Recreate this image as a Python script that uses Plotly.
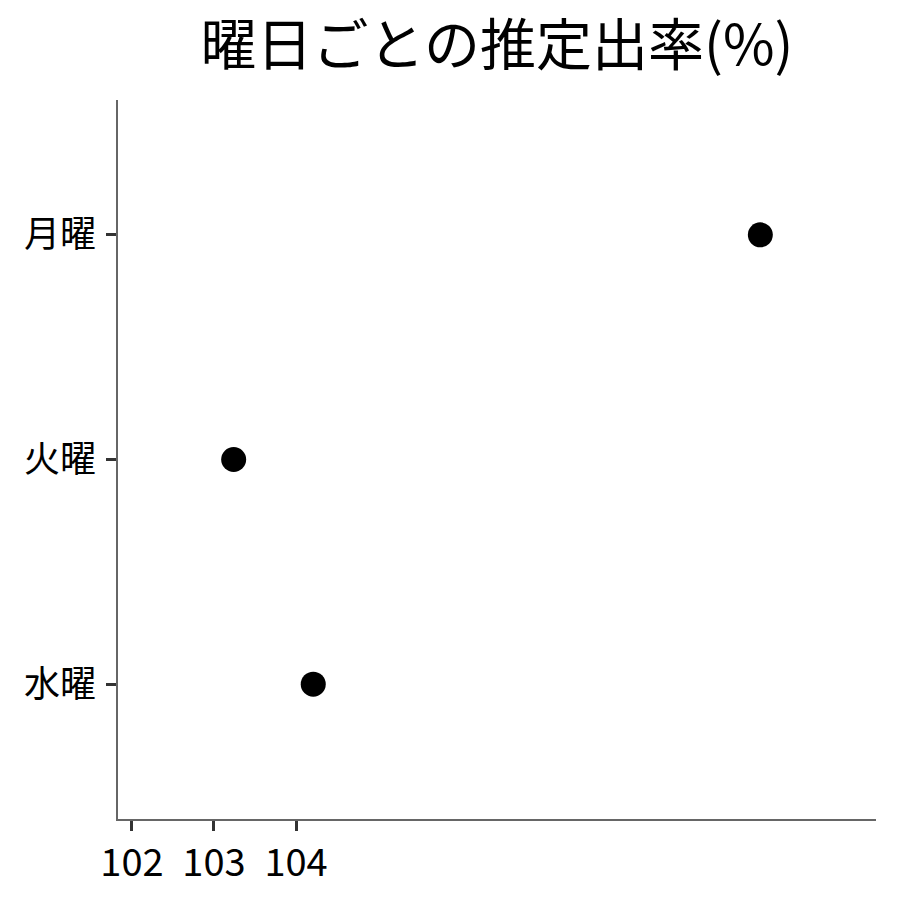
import plotly.graph_objects as go

days = ["月曜", "火曜", "水曜"]
rates = [109.66, 103.24, 104.21]
x_ticks = [102, 103, 104]
title_text = "曜日ごとの推定出率(%)"

font = "Noto Sans CJK JP"
fig = go.Figure(go.Scatter(
    x=rates, y=days, mode="markers",
    marker=dict(color="black", size=25),
))
fig.update_layout(
    width=900, height=900,
    margin=dict(l=110, r=32, t=92, b=89),
    plot_bgcolor="white", paper_bgcolor="white",
    font=dict(family=font, color="black"),
    title=dict(text=title_text, x=0.5, xref="paper", xanchor="center", y=0.959, yanchor="middle",
               font=dict(size=56, family=font, color="black")),
    showlegend=False,
)
fig.update_xaxes(
    range=[101.83, 111.07], tickvals=x_ticks, showgrid=False, zeroline=False,
    showline=True, linecolor="#666666", linewidth=1.5,
    ticks="outside", ticklen=10, tickwidth=3, tickcolor="#333333",
    tickfont=dict(size=38, family=font, color="black"),
)
fig.update_yaxes(
    type="category", categoryorder="array", categoryarray=days,
    range=[2.6, -0.6], showgrid=False, zeroline=False,
    showline=True, linecolor="#666666", linewidth=1.5,
    ticks="outside", ticklen=10, tickwidth=3, tickcolor="#333333",
    ticklabelstandoff=3,
    tickfont=dict(size=36, family=font, color="black"),
)
fig.write_html("out.html")
